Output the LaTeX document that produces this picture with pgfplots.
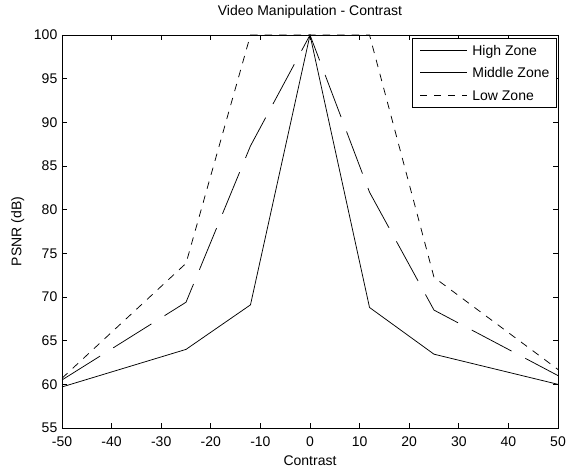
\documentclass[border=0pt]{standalone}
\usepackage{fontspec}
\setmainfont{Liberation Sans}
\usepackage{pgfplots}
\pgfplotsset{compat=1.18}
\begin{document}
\begin{tikzpicture}
\begin{axis}[
  at={(0,0)}, anchor=south west,
  scale only axis, width=496bp, height=393bp,
  xmin=-50, xmax=50, ymin=55, ymax=100,
  xtick={-50,-40,...,50}, ytick={55,60,...,100},
  tick align=inside, major tick length=5.5bp,
  axis line style={line width=0.75bp},
  every tick/.style={line width=0.75bp, black},
  font=\fontsize{14bp}{16bp}\selectfont,
  /pgf/number format/assume math mode=true,
  ticklabel style={font=\fontsize{14bp}{16bp}\selectfont},
  xticklabel style={anchor=base, yshift=-18bp},
  yticklabel style={anchor=east, inner xsep=4.5bp},
  title={Video Manipulation - Contrast},
  title style={at={(axis description cs:0.5,1)}, anchor=base, yshift=13.3bp},
  xlabel={Contrast},
  xlabel style={at={(axis description cs:0.5,0)}, anchor=base, yshift=-37bp},
  ylabel={PSNR (dB)},
  ylabel style={at={(axis description cs:-0.0817,0.5)}, anchor=base},
  legend style={at={(1,1)}, anchor=north east, xshift=-1bp, yshift=-3bp,
    draw=black, line width=0.6bp, fill=white,
    inner xsep=7.3bp, inner ysep=0.75bp, row sep=0pt, column sep=5bp,
    font=\fontsize{14bp}{16bp}\selectfont,
    nodes={inner xsep=0pt, inner ysep=6.25bp, text height=10bp, text depth=0pt}},
  legend cell align=left,
  legend image code/.code={\draw[line width=0.75bp,#1] (0bp,0bp) -- (46.7bp,0bp);},
]
\addplot[forget plot, black, line width=0.75bp] coordinates {
(-50,59.7) (-25,64.0) (-12,69.1) (0,100) (12,68.8) (25,63.45) (50,60.0)};
\addplot[forget plot, black, line width=0.75bp, dash pattern=on 45bp off 15.5bp] coordinates {
(-50,60.5) (-25,69.4) (-12,87.3) (0,100) (12,82.0) (25,68.5) (50,61.0)};
\addplot[forget plot, black, line width=0.75bp, dash pattern=on 7.5bp off 7bp] coordinates {
(-50,60.7) (-25,73.85) (-12,100) (0,100) (12,100) (25,72.25) (50,61.7)};
\addlegendimage{black, solid}
\addlegendentry{High Zone}
\addlegendimage{black, solid}
\addlegendentry{Middle Zone}
\addlegendimage{black, dash pattern=on 7bp off 7bp}
\addlegendentry{Low Zone}
\end{axis}
\pgfresetboundingbox
\path (-62bp,-39bp) rectangle (505bp,428bp);
\end{tikzpicture}
\end{document}
